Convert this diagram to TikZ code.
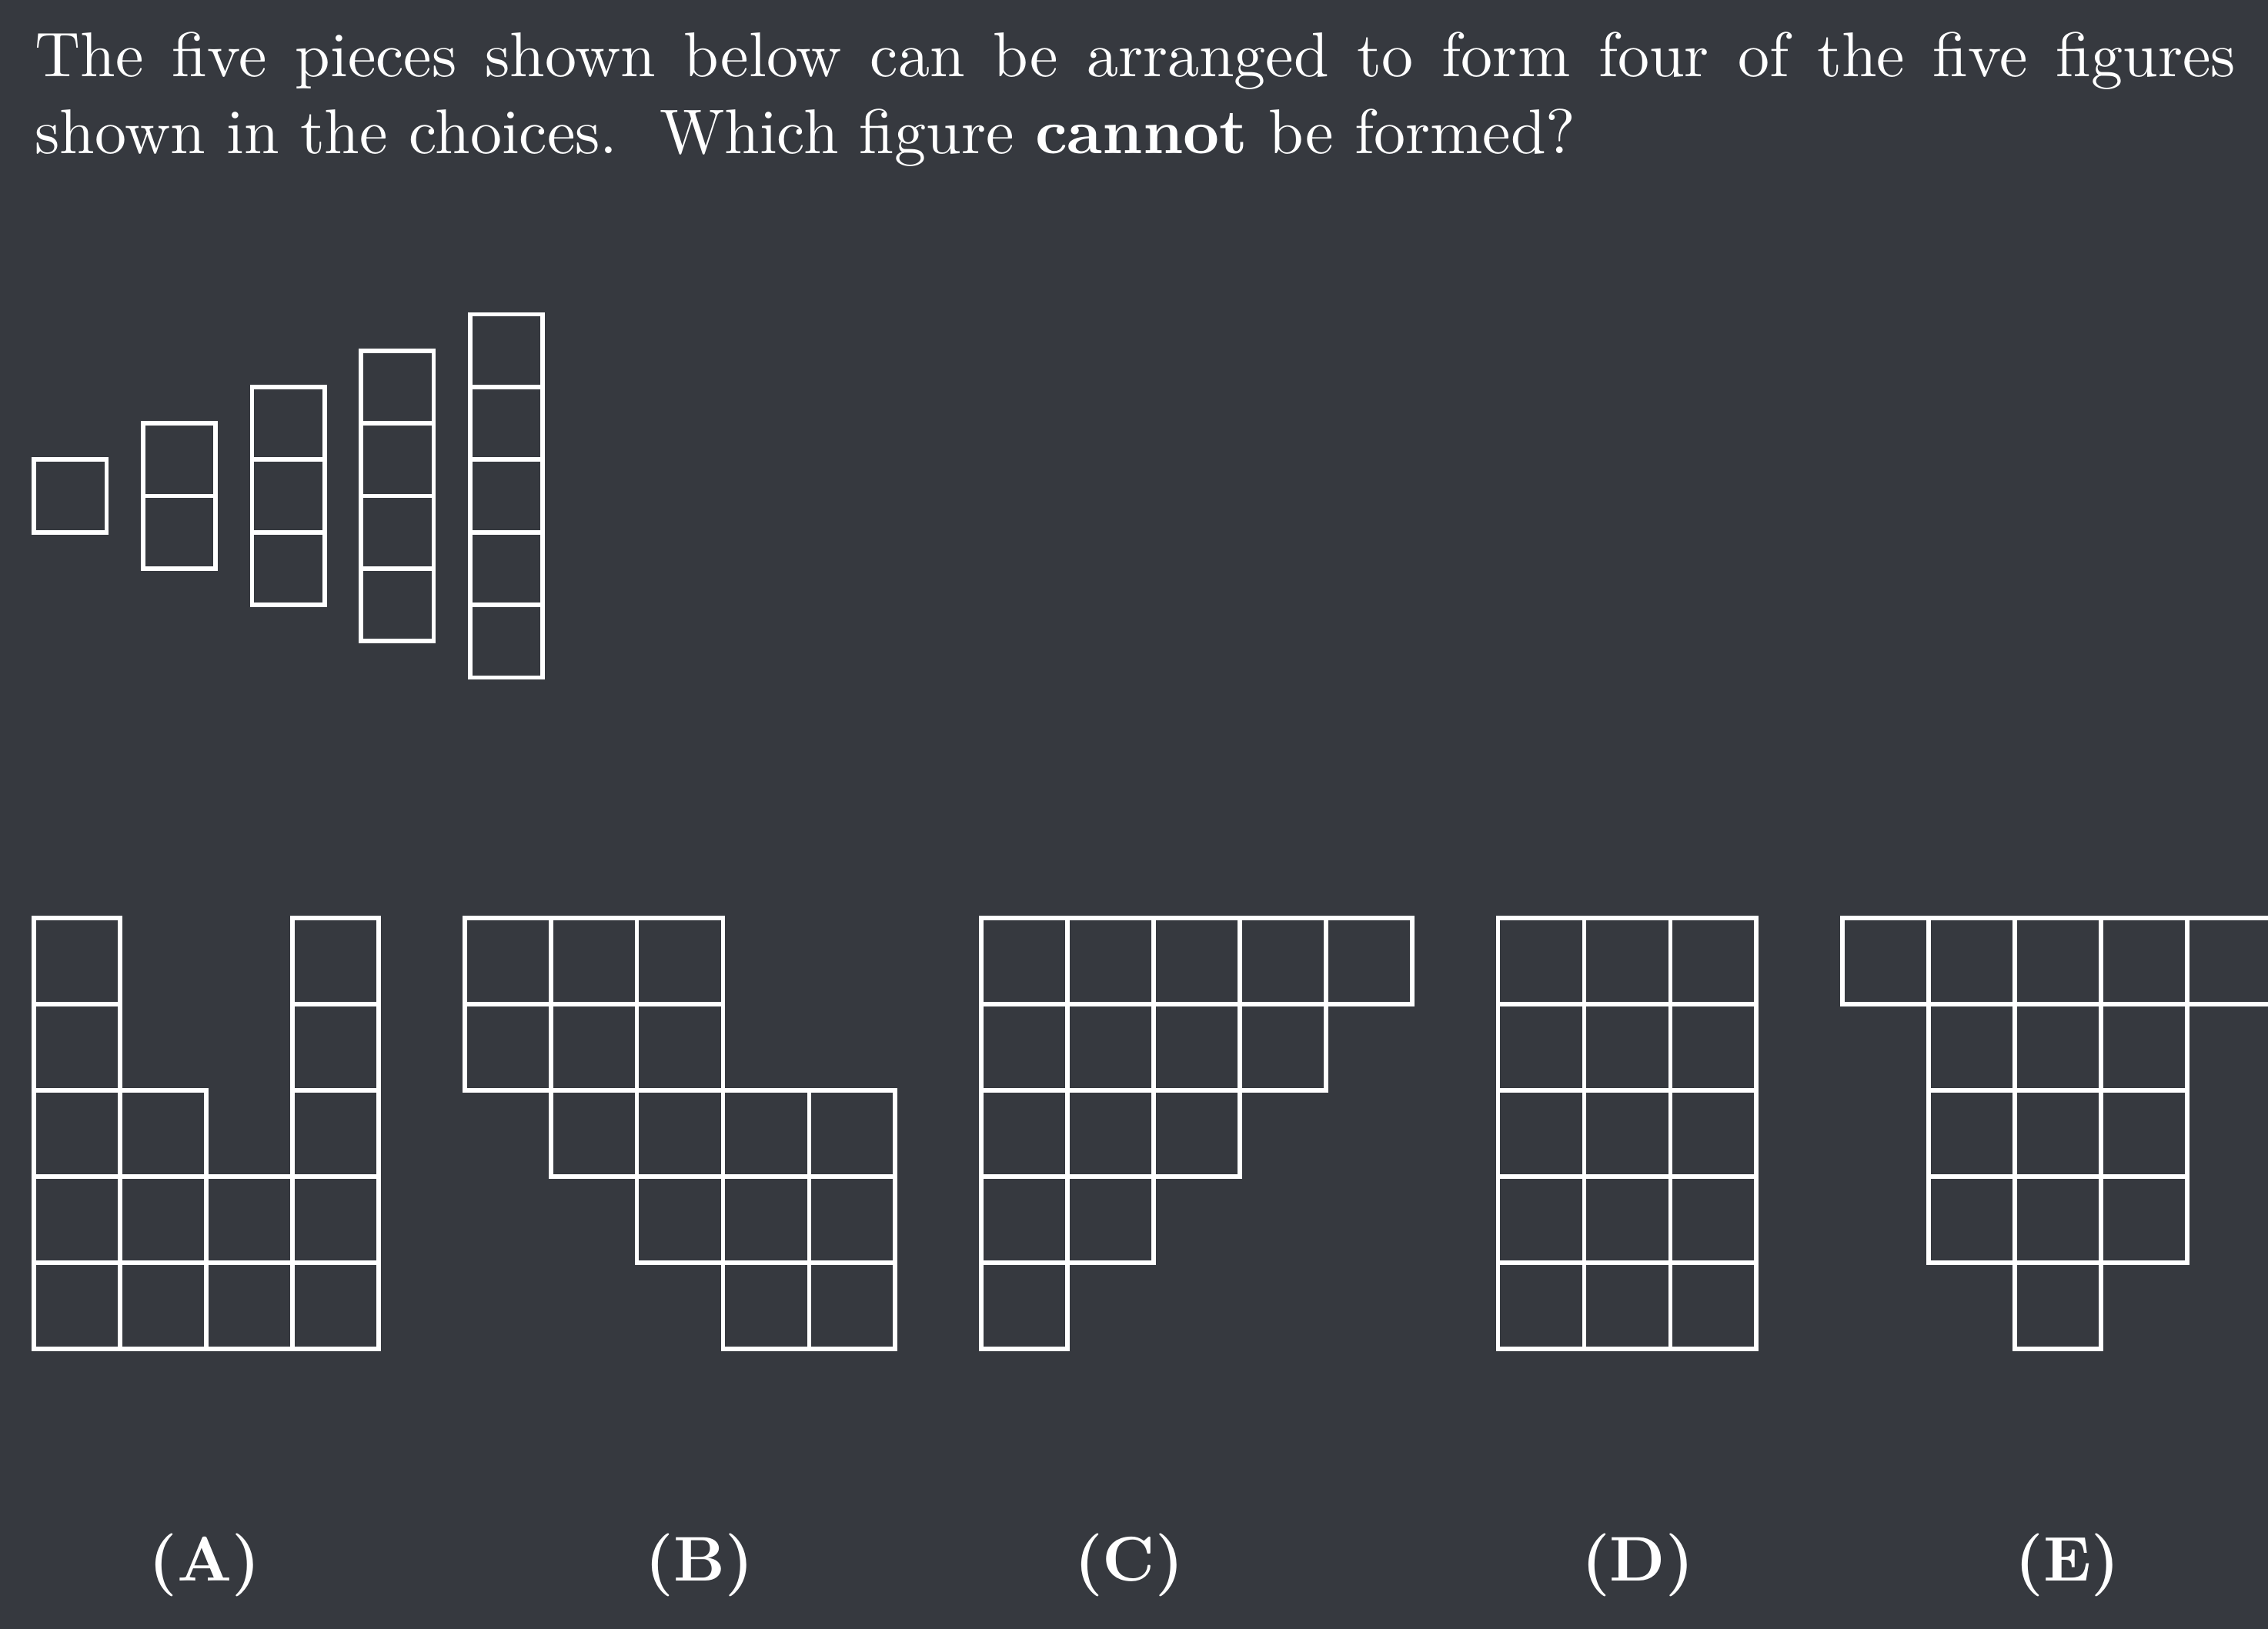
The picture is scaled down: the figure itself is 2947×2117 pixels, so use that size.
\documentclass[tikz,border=0pt]{standalone}
\usepackage{tikz}
\definecolor{bgc}{HTML}{36393F}
\newcommand\qcells[2]{%
  \foreach \c/\r in {#2} {\draw[cell] ({#1+\c*111.9},{1193.3+\r*111.9}) rectangle ++(111.9,111.9);}}
\begin{document}
\begin{tikzpicture}[x=0.12195pt,y=-0.12195pt,
  cell/.style={draw=white,line width=0.695pt},
  txt/.style={text=white,inner sep=0pt,font=\fontsize{10}{12.2}\selectfont},
  lbl/.style={txt,anchor=base,font=\fontsize{10}{12.2}\selectfont\bfseries}]
\useasboundingbox (0,0) rectangle (2947,2117);
\clip (0,0) rectangle (2947,2117);
\fill[bgc] (0,0) rectangle (2947,2117);
% question text
\node[txt,anchor=base west] (line1) at (44,99.3) {\makebox[348.7pt][s]{The five pieces shown below can be arranged to form four of the five figures}};
\node[txt,anchor=base west] (line2) at (44,199.3) {shown in the choices.\ \ Which figure \textbf{cannot} be formed?};
% pieces
\foreach \i in {0,...,4}{
  \pgfmathsetmacro\px{44+141.7*\i}
  \foreach \j in {0,...,\i}{
    \pgfmathsetmacro\py{644.5-(\i+1)*47.2+\j*94.4}
    \draw[cell] (\px,\py) rectangle ++(94.4,94.4);
  }
}
% choices
\qcells{44.3}{0/0,0/1,0/2,0/3,0/4,1/2,1/3,1/4,2/3,2/4,3/0,3/1,3/2,3/3,3/4}
\qcells{603.8}{0/0,1/0,2/0,0/1,1/1,2/1,1/2,2/2,3/2,4/2,2/3,3/3,4/3,3/4,4/4}
\qcells{1275.2}{0/0,1/0,2/0,3/0,4/0,0/1,1/1,2/1,3/1,0/2,1/2,2/2,0/3,1/3,0/4}
\qcells{1946.6}{0/0,1/0,2/0,0/1,1/1,2/1,0/2,1/2,2/2,0/3,1/3,2/3,0/4,1/4,2/4}
\qcells{2394.2}{0/0,1/0,2/0,3/0,4/0,1/1,2/1,3/1,1/2,2/2,3/2,1/3,2/3,3/3,2/4}
% labels
\node[lbl] (la) at (266,2054) {(A)};
\node[lbl] (lb) at (909,2054) {(B)};
\node[lbl] (lc) at (1467,2054) {(C)};
\node[lbl] (ld) at (2128,2054) {(D)};
\node[lbl] (le) at (2686,2054) {(E)};
\end{tikzpicture}
\end{document}
